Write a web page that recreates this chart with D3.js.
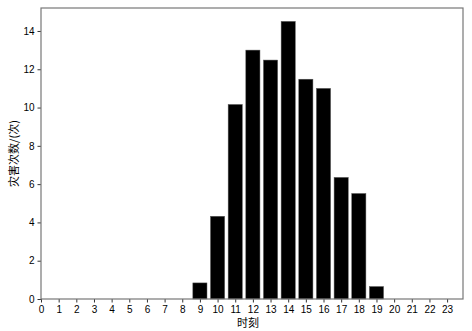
<!DOCTYPE html>
<html>
<head>
<meta charset="utf-8">
<script src="https://cdn.jsdelivr.net/npm/d3@7"></script>
<style>
  body { margin: 0; background: #fff; }
  .tick text { font-family: "Liberation Sans", Arial, sans-serif; font-size: 10px; fill: #000; }
  .lbl { font-family: "Noto Sans CJK SC", sans-serif; font-size: 11px; fill: #000; }
</style>
</head>
<body>
<svg id="chart" width="472" height="331"></svg>
<script>
// hours 0..23 and disaster counts
var hours = d3.range(0, 24)
var counts = [0, 0, 0, 0, 0, 0, 0, 0, 0, 0.84, 4.32, 10.16, 13.0, 12.48, 14.5, 11.48, 11.0, 6.35, 5.51, 0.65, 0, 0, 0, 0]
var yTicks = [0, 2, 4, 6, 8, 10, 12, 14]

var margin = {left: 41, top: 8, right: 9, bottom: 32}
var width = 472 - margin.left - margin.right
var height = 331 - margin.top - margin.bottom

var svg = d3.select("#chart")
var g = svg.append("g").attr("transform", "translate(" + margin.left + "," + margin.top + ")")

var x = d3.scaleLinear().domain([0, 23.9]).range([0, width])
var y = d3.scaleLinear().domain([0, 15.2]).range([height, 0])

// bars
g.selectAll(".bar")
    .data(counts)
    .enter().append("rect")
    .attr("class", "bar")
    .attr("x", function(d, i) { return x(hours[i] - 0.4) })
    .attr("width", x(0.8) - x(0))
    .attr("y", function(d) { return y(d) })
    .attr("height", function(d) { return y(0) - y(d) })
    .attr("fill", "#000")
    .attr("stroke", function(d) { return d > 0 ? "#555" : "none" })
    .attr("stroke-width", 0.5)

// axes
var xAxis = g.append("g")
    .attr("transform", "translate(0," + height + ")")
    .call(d3.axisBottom(x).tickValues(hours).tickFormat(d3.format("d")).tickSizeOuter(0).tickSize(3.5).tickPadding(3))
var yAxis = g.append("g")
    .call(d3.axisLeft(y).tickValues(yTicks).tickSizeOuter(0).tickSize(3.5).tickPadding(3))

svg.selectAll(".domain").remove()
svg.selectAll(".tick line").attr("stroke", "#333")

// frame
g.append("rect")
    .attr("x", 0).attr("y", 0)
    .attr("width", width).attr("height", height)
    .attr("fill", "none")
    .attr("stroke", "#777")
    .attr("stroke-width", 1.2)

// labels
svg.append("text")
    .attr("class", "lbl")
    .attr("x", margin.left + width / 2 - 4)
    .attr("y", 327)
    .attr("text-anchor", "middle")
    .text("时刻")

svg.append("text")
    .attr("class", "lbl")
    .attr("transform", "translate(18," + (margin.top + height / 2) + ") rotate(-90)")
    .attr("text-anchor", "middle")
    .text("灾害次数/(次)")
</script>
</body>
</html>
